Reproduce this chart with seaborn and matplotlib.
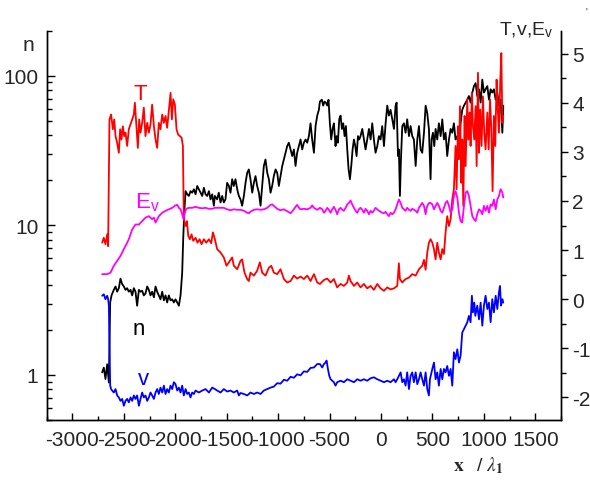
import matplotlib
matplotlib.use("Agg")
import matplotlib.pyplot as plt
import seaborn as sns
from matplotlib.ticker import MultipleLocator, FixedLocator, FixedFormatter, LogLocator, NullFormatter

# ---- data (x in units of lambda_1) ----
t_x = [-2711, -2695, -2679, -2662, -2653, -2640, -2624, -2607, -2594, -2581,
       -2565, -2549, -2536, -2523, -2510, -2497, -2484, -2468, -2452, -2435,
       -2419, -2403, -2393, -2380, -2364, -2351, -2338, -2322, -2306, -2290,
       -2273, -2257, -2241, -2225, -2208, -2192, -2176, -2160, -2144, -2127,
       -2111, -2095, -2079, -2063, -2046, -2033, -2020, -2004, -1988, -1972,
       -1956, -1939, -1926, -1917, -1900, -1887, -1874, -1858, -1842, -1826,
       -1803, -1784, -1764, -1745, -1722, -1699, -1673, -1651, -1634, -1615,
       -1593, -1560, -1528, -1502, -1479, -1447, -1431, -1398, -1366, -1350,
       -1327, -1301, -1285, -1269, -1236, -1204, -1178, -1155, -1123, -1090,
       -1067, -1042, -1009, -977, -944, -912, -879, -847, -815, -782,
       -750, -717, -685, -652, -620, -594,
       -555, -523, -490, -458, -426, -393, -361, -328, -312, -296,
       -263, -231, -199, -166, -134, -101, -69, -36, -4, 29,
       61, 93, 126, 158, 174, 184, 207, 239, 272, 304,
       337, 369, 401, 418, 434, 450, 466,
       482, 499, 515, 531, 547, 563, 580, 596, 612, 628,
       644, 661, 677, 693, 709, 725, 735, 748, 758, 768,
       781, 790, 800, 813, 823, 839, 849, 862, 871, 884,
       894, 907, 920, 930, 943, 953, 965, 978, 991, 1004,
       1017, 1034, 1047, 1060, 1073, 1085, 1098, 1111, 1124, 1134,
       1147, 1160, 1170, 1180, 1189]
t_val = [1.15, 1.25, 1.12, 1.32, 1.08, 3.66, 3.76, 3.46, 3.66, 3.32,
         3.18, 2.98, 3.46, 3.25, 3.52, 3.32, 3.39, 3.12, 3.46, 3.56,
         3.66, 3.76, 4.00, 3.59, 3.08, 3.66, 3.39, 3.59, 3.90, 3.32,
         3.59, 3.39, 3.56, 3.96, 3.52, 3.25, 3.08, 3.59, 3.46, 3.76,
         3.59, 3.73, 3.49, 3.83, 4.20, 3.66, 4.07, 3.96, 3.46, 3.35,
         3.32, 3.29, 3.12, 1.63, 1.49, 1.59, 1.29, 1.22, 1.32, 1.19,
         1.25, 1.15, 1.22, 1.12, 1.22, 1.15, 1.22, 1.14, 1.36, 1.22,
         1.02, 0.95, 0.85, 0.68, 0.75, 0.85, 0.68, 0.61, 0.78, 0.81,
         0.54, 0.41, 0.37, 0.54, 0.48, 0.58, 0.75, 0.54, 0.48, 0.64,
         0.68, 0.54, 0.51, 0.61, 0.41, 0.34, 0.37, 0.48, 0.42, 0.46,
         0.41, 0.48, 0.37, 0.51, 0.34, 0.31,
         0.39, 0.42, 0.34, 0.41, 0.24, 0.31, 0.27, 0.34, 0.48, 0.37,
         0.27, 0.34, 0.24, 0.31, 0.22, 0.27, 0.19, 0.31, 0.22, 0.17,
         0.24, 0.20, 0.22, 0.27, 0.73, 0.41, 0.34, 0.41, 0.44, 0.51,
         0.48, 0.61, 0.68, 0.80, 0.60, 0.95, 1.15,
         1.22, 1.15, 1.02, 0.81, 1.15, 0.95, 0.81, 1.02, 0.92, 1.36,
         1.69, 1.49, 1.63, 2.03, 2.24, 3.12, 2.24, 3.52, 2.85, 3.93,
         2.37, 3.25, 1.90, 3.73, 2.71, 4.07, 3.25, 3.80, 3.12, 4.20,
         3.52, 3.25, 3.93, 2.71, 4.61, 2.98, 3.86, 3.12, 4.13, 3.39,
         3.05, 3.80, 3.05, 4.07, 3.46, 2.20, 3.73, 3.12, 4.47, 3.93,
         3.39, 4.47, 5.01, 3.59, 3.73]

n_x = [-2711, -2695, -2679, -2662, -2646, -2633, -2620, -2598, -2581, -2565,
       -2549, -2533, -2517, -2500, -2484, -2468, -2452, -2435, -2419, -2403,
       -2387, -2371, -2354, -2338, -2322, -2306, -2290, -2273, -2257, -2241,
       -2225, -2208, -2192, -2176, -2160, -2144, -2127, -2111, -2095, -2079,
       -2063, -2046, -2030, -2014, -1998, -1981, -1965, -1949, -1933, -1923,
       -1913, -1900, -1884, -1868, -1852, -1836, -1819, -1803, -1787, -1771,
       -1754, -1738, -1722, -1706, -1690, -1673, -1657, -1641, -1625, -1615,
       -1593, -1577, -1560, -1544, -1528, -1512, -1496, -1479, -1463, -1447,
       -1431, -1415, -1398, -1382, -1366, -1350, -1333, -1317, -1301, -1285,
       -1269, -1252, -1236, -1220, -1204, -1187, -1171, -1155, -1139, -1123,
       -1106, -1090, -1074, -1058, -1042, -1025, -1009, -993, -977, -960,
       -944, -928, -912, -896, -879, -863, -847, -831, -815, -798,
       -782, -766, -750, -733, -717, -701, -685, -669, -652, -636,
       -620, -604, -594,
       -575, -562, -549, -536, -523, -510, -497, -484, -471, -458,
       -442, -432, -419, -406, -393, -380, -367, -354, -341, -328,
       -315, -302, -289, -276, -263, -250, -237, -224, -212, -199,
       -182, -166, -150, -134, -117, -101, -85, -69, -53, -36,
       -20, -4, 12, 29, 45, 61, 77, 93, 110, 126,
       142, 152, 165, 174, 184, 194, 207, 223, 239, 255,
       272, 288, 304, 320, 337, 353, 369, 385, 401, 418,
       434, 450, 466,
       482, 492, 505, 518, 531, 547, 563, 580, 596, 612,
       628, 644, 661, 677, 693, 709, 725, 742, 758, 774,
       790, 807, 823, 839, 855, 871, 888, 904, 920, 936,
       953, 969, 985, 1001, 1017, 1034, 1050, 1066, 1082, 1098,
       1115, 1131, 1147, 1163, 1180, 1189]
n_val = [1.04, 1.12, 0.94, 1.18, 0.89, 3.05, 3.4, 3.7, 3.9, 3.6,
         3.8, 4.4, 4.05, 3.9, 3.7, 3.8, 3.6, 3.7, 3.4, 3.8,
         3.6, 2.9, 3.7, 3.6, 3.65, 3.4, 3.5, 3.9, 3.7, 3.4,
         3.6, 3.3, 3.9, 3.6, 3.4, 3.2, 3.6, 3.15, 3.4, 3.05,
         3.4, 3.15, 3.2, 3.05, 3.2, 3.05, 2.9, 3.4, 4.8, 8.1,
         12.1, 16.9, 16.1, 15.7, 16.9, 16.5, 17.4, 16.1, 18.3, 17.4,
         16.5, 15.7, 17.8, 16.1, 15.7, 16.9, 14.9, 16.1, 13.5, 15.7,
         14.9, 16.5, 14.2, 15.7, 14.2, 14.9, 19.2, 18.3, 16.5, 20.3,
         18.3, 20.3, 17.4, 15.7, 14.9, 13.5, 15.7, 19.2, 22.4, 23.6,
         20.3, 16.5, 19.2, 21.3, 18.3, 16.5, 13.5, 18.3, 24.9, 27.5,
         22.4, 20.3, 16.5, 18.3, 21.3, 23.6, 22.4, 18.3, 21.3, 24.9,
         27.5, 30.5, 33.8, 35.6, 32.1, 29.0, 32.1, 24.9, 30.5, 33.8,
         37.4, 32.1, 35.6, 37.4, 35.6, 39.4, 48.0, 37.4, 30.5, 46.0,
         54.0, 59.0, 67.0,
         69, 63, 67, 66, 63, 69, 48, 37.4, 44, 48,
         33.8, 39.4, 35.6, 51, 54, 44, 48, 39.4, 46, 32.1,
         23.6, 20.3, 24.9, 32.1, 37.4, 33.8, 29, 39.4, 37.4, 39.4,
         44, 37.4, 32.1, 37.4, 44, 37.4, 48, 37.4, 30.5, 33.8,
         39.4, 37.4, 46, 33.8, 48, 63, 54, 59, 51, 44,
         63, 66, 29, 32.1, 15.7, 27.5, 46, 48, 41.5, 51,
         39.4, 46, 39.4, 37.4, 24.9, 37.4, 46, 32.1, 30.5, 41.5,
         63, 56, 44,
         20.3, 37.4, 41.5, 33.8, 44, 37.4, 48, 39.4, 51, 37.4,
         41.5, 29, 37.4, 44, 41.5, 48, 37.4, 39.4, 32.1, 48,
         59, 63, 66, 69, 73, 66, 77, 85, 89, 73,
         81, 66, 94, 77, 81, 85, 69, 81, 77, 81,
         69, 77, 63, 69, 41.5, 63]

ev_x = [-2711, -2662, -2630, -2598, -2565, -2533, -2500, -2468, -2452, -2419,
        -2387, -2354, -2322, -2290, -2257, -2225, -2208, -2192, -2160, -2127,
        -2095, -2063, -2030, -1998, -1981, -1965, -1949, -1933, -1920, -1907,
        -1894, -1868, -1836, -1803, -1771, -1738, -1706, -1673, -1641, -1615,
        -1593, -1560, -1528, -1496, -1463, -1431, -1398, -1366, -1333, -1301,
        -1285, -1269, -1236, -1204, -1171, -1139, -1106, -1074, -1058, -1042,
        -1009, -977, -944, -912, -879, -847, -831, -815, -798, -782,
        -750, -717, -685, -669, -652, -620, -594,
        -571, -555, -539, -523, -507, -490, -474, -458, -442, -426,
        -409, -393, -377, -361, -344, -328, -312, -296, -280, -263,
        -247, -231, -215, -199, -182, -166, -150, -134, -117, -101,
        -85, -69, -53, -36, -20, -4, 12, 29, 45, 61,
        77, 93, 110, 126, 142, 158, 174, 191, 207, 223,
        239, 255, 272, 288, 304, 320, 337, 353, 369, 385,
        401, 418, 434, 444, 457, 470,
        482, 499, 515, 531, 547, 563, 580, 596, 612, 628,
        644, 661, 677, 693, 709, 725, 742, 758, 774, 790,
        807, 823, 839, 855, 871, 888, 904, 920, 936, 953,
        969, 985, 1001, 1017, 1034, 1050, 1066, 1082, 1098, 1115,
        1131, 1147, 1163, 1180, 1189]
ev_val = [0.51, 0.51, 0.54, 0.68, 0.78, 0.88, 1.02, 1.15, 1.22, 1.42,
          1.52, 1.52, 1.59, 1.66, 1.69, 1.63, 1.66, 1.56, 1.69, 1.76,
          1.80, 1.83, 1.86, 1.91, 1.92, 1.86, 1.83, 1.73, 1.63, 1.76,
          1.84, 1.86, 1.86, 1.88, 1.86, 1.85, 1.86, 1.84, 1.84, 1.86,
          1.86, 1.86, 1.86, 1.83, 1.81, 1.83, 1.82, 1.82, 1.80, 1.76,
          1.75, 1.78, 1.82, 1.83, 1.82, 1.83, 1.86, 1.92, 1.93, 1.90,
          1.84, 1.81, 1.83, 1.79, 1.75, 1.83, 1.88, 1.92, 1.86, 1.83,
          1.84, 1.83, 1.86, 1.91, 1.86, 1.82, 1.86,
          1.83, 1.76, 1.80, 1.86, 1.82, 1.76, 1.83, 1.88, 1.82, 1.73,
          1.83, 1.86, 1.82, 1.80, 1.86, 1.93, 1.96, 2.01, 1.93, 1.86,
          1.80, 1.76, 1.83, 1.86, 1.82, 1.76, 1.84, 1.80, 1.73, 1.80,
          1.76, 1.80, 1.86, 1.83, 1.80, 1.78, 1.76, 1.75, 1.78, 1.73,
          1.69, 1.76, 1.73, 1.76, 1.83, 1.93, 2.03, 1.96, 1.86, 1.83,
          1.80, 1.86, 1.82, 1.80, 1.84, 1.82, 1.80, 1.76, 1.86, 1.91,
          1.96, 1.90, 1.73, 1.86, 1.93, 1.96,
          1.96, 1.93, 1.83, 1.90, 1.96, 1.90, 1.80, 1.76, 1.86, 1.96,
          2.00, 1.90, 1.76, 1.83, 2.10, 2.20, 2.07, 1.76, 1.59, 1.56,
          1.90, 2.17, 2.20, 2.10, 1.90, 1.69, 1.63, 1.59, 1.73, 1.83,
          1.80, 1.73, 1.90, 1.80, 1.90, 1.76, 1.93, 1.90, 2.03, 1.83,
          2.03, 2.10, 2.24, 2.17, 2.07]

v_x = [-2711, -2695, -2679, -2662, -2653, -2646, -2633, -2624, -2614, -2598,
       -2581, -2565, -2549, -2533, -2517, -2500, -2484, -2468, -2452, -2435,
       -2419, -2403, -2387, -2371, -2354, -2338, -2322, -2306, -2290, -2273,
       -2257, -2241, -2225, -2208, -2192, -2176, -2160, -2144, -2127, -2111,
       -2095, -2079, -2063, -2046, -2030, -2014, -1998, -1981, -1965, -1949,
       -1933, -1917, -1900, -1884, -1868, -1852, -1836, -1819, -1803, -1771,
       -1738, -1706, -1673, -1641, -1615,
       -1593, -1560, -1528, -1496, -1463, -1431, -1398, -1382, -1366, -1333,
       -1301, -1269, -1236, -1204, -1171, -1139, -1106, -1074, -1042, -1009,
       -977, -944, -912, -879, -847, -815, -782, -750, -717, -685,
       -652, -620, -594,
       -571, -555, -539, -529, -516, -503, -490, -474, -458, -442,
       -426, -393, -361, -328, -296, -263, -231, -199, -166, -134,
       -101, -69, -36, -4, 29, 61, 93, 126, 142, 158,
       174, 191, 207, 223, 239, 255, 272, 288, 304, 320,
       337, 353, 369, 385, 401, 418, 434, 450, 466, 476,
       499, 515, 531, 547, 563, 580, 596, 612, 628, 644,
       661, 677, 693, 709, 725, 742, 758, 774, 790, 807,
       823, 839, 855, 871, 884, 894, 907, 917, 936, 953,
       969, 985, 1001, 1017, 1034, 1050, 1066, 1082, 1098, 1115,
       1131, 1147, 1157, 1167, 1180, 1189]
v_val = [0.07, 0.10, 0.00, 0.07, 0.00, -0.13, -1.76, -1.83, -1.86, -1.90,
         -1.83, -1.96, -2.00, -2.07, -2.03, -2.17, -2.07, -2.03, -2.10, -2.00,
         -2.07, -1.96, -2.03, -1.96, -2.17, -2.03, -1.90, -2.00, -1.96, -2.07,
         -2.00, -1.90, -1.96, -2.03, -1.90, -1.83, -1.93, -1.80, -1.90, -1.76,
         -1.93, -1.83, -1.90, -1.76, -1.83, -1.69, -1.73, -1.86, -1.80, -1.90,
         -1.76, -1.96, -1.83, -1.93, -1.90, -2.00, -1.90, -1.93, -1.86, -1.90,
         -1.86, -1.83, -1.90, -1.80, -1.83,
         -1.86, -1.90, -1.83, -1.88, -1.86, -1.90, -1.86, -1.96, -1.91, -1.93,
         -1.96, -1.90, -1.93, -1.90, -1.93, -1.86, -1.83, -1.80, -1.78, -1.71,
         -1.72, -1.64, -1.66, -1.58, -1.60, -1.53, -1.55, -1.47, -1.48, -1.40,
         -1.39, -1.32, -1.32,
         -1.39, -1.32, -1.29, -1.25, -1.42, -1.56, -1.63, -1.66, -1.69, -1.76,
         -1.69, -1.66, -1.69, -1.63, -1.66, -1.69, -1.63, -1.66, -1.63, -1.66,
         -1.61, -1.59, -1.63, -1.66, -1.69, -1.66, -1.69, -1.63, -1.69, -1.63,
         -1.56, -1.49, -1.69, -1.63, -1.76, -1.49, -1.83, -1.56, -1.49, -1.69,
         -1.49, -1.73, -1.63, -1.49, -1.63, -1.76, -1.49, -1.83, -1.96, -1.63,
         -1.42, -1.29, -1.63, -1.49, -1.76, -1.42, -1.63, -1.42, -1.49, -1.36,
         -1.56, -1.42, -1.76, -1.08, -1.22, -1.02, -1.29, -1.15, -0.68, -0.61,
         -0.54, -0.47, -0.34, -0.47, 0.07, -0.27, -0.07, -0.34, -0.13, -0.41,
         -0.07, -0.54, -0.13, 0.07, -0.20, -0.07, -0.47, 0.00, -0.27, 0.07,
         -0.20, 0.14, 0.27, -0.13, 0.00, -0.07]

x_ticks = [-3000, -2500, -2000, -1500, -1000, -500, 0, 500, 1000, 1500]
left_ticks = [1, 10, 100]
left_labels = ["1", "10", "100"]
right_ticks = [-2, -1, 0, 1, 2, 3, 4, 5]

sns.set_style("ticks")
plt.rcParams["font.family"] = ["Liberation Sans Narrow", "Liberation Sans", "DejaVu Sans"]
plt.rcParams["axes.unicode_minus"] = False
plt.rcParams["mathtext.fontset"] = "stix"

fig = plt.figure(figsize=(5.9, 4.81), dpi=100)
ax = fig.add_axes([0.0792, 0.1247, 0.8716, 0.8098])
ax2 = ax.twinx()

lw = 1.3
sns.lineplot(x=n_x, y=n_val, ax=ax, color="black", lw=lw, sort=False, estimator=None)
sns.lineplot(x=t_x, y=t_val, ax=ax2, color="#ff0000", lw=lw, sort=False, estimator=None)
sns.lineplot(x=ev_x, y=ev_val, ax=ax2, color="#ff00ff", lw=lw, sort=False, estimator=None)
sns.lineplot(x=v_x, y=v_val, ax=ax2, color="#0000ff", lw=lw, sort=False, estimator=None)

ax.set_xlim(-3250, 1750)
ax.set_yscale("log")
ax.set_ylim(0.5, 200)
ax2.set_ylim(-2.46, 5.47)

for a in (ax, ax2):
    a.spines["top"].set_visible(False)
    for s in a.spines.values():
        s.set_linewidth(1.0)
        s.set_color("black")
    a.set_xlabel("")
    a.set_ylabel("")

ax.set_xticks(x_ticks)
ax.set_xticklabels([str(v) for v in x_ticks])
ax.xaxis.set_minor_locator(MultipleLocator(250))
ax.yaxis.set_major_locator(FixedLocator(left_ticks))
ax.yaxis.set_major_formatter(FixedFormatter(left_labels))
ax.yaxis.set_minor_locator(LogLocator(base=10, subs=range(2, 10)))
ax.yaxis.set_minor_formatter(NullFormatter())
ax.tick_params(axis="x", which="major", direction="in", length=5, width=1, labelsize=15, pad=7, color="black")
ax.tick_params(axis="x", which="minor", direction="in", length=3, width=1, color="black")
ax.tick_params(axis="y", which="major", direction="in", length=6, width=1, labelsize=15, pad=6, color="black")
ax.tick_params(axis="y", which="minor", direction="in", length=3.5, width=1, color="black")

ax2.set_yticks(right_ticks)
ax2.set_yticklabels([str(v) for v in right_ticks])
ax2.yaxis.set_minor_locator(MultipleLocator(0.5))
ax2.tick_params(axis="y", which="major", direction="out", length=5, width=1, labelsize=15, pad=3, color="black")
ax2.tick_params(axis="y", which="minor", direction="out", length=3.5, width=1, color="black")

# axis titles and curve labels
fig.text(0.0486, 0.8946, "n", fontsize=15, ha="center", va="baseline")
fig.text(0.846, 0.927, r"T,v,E$_\mathregular{v}$", fontsize=14, ha="left", va="baseline")
fig.text(0.995, 0.968, "'", fontsize=7, ha="right", va="baseline")
fig.text(0.237, 0.792, "T", fontsize=16, color="#ff0000", ha="center", va="baseline")
fig.text(0.229, 0.5676, r"E$_\mathregular{v}$", fontsize=16, color="#ff00ff", ha="left", va="baseline")
fig.text(0.2356, 0.3035, "n", fontsize=16, color="black", ha="center", va="baseline")
fig.text(0.2424, 0.1996, "v", fontsize=16, color="#0000ff", ha="center", va="baseline")
fig.text(0.768, 0.021, r"$\mathbf{x}$", fontsize=14, ha="left", va="baseline")
fig.text(0.806, 0.021, r"/ $\lambda_{\mathbf{1}}$", fontsize=14, ha="left", va="baseline")

fig.savefig("out.png", dpi=100)
